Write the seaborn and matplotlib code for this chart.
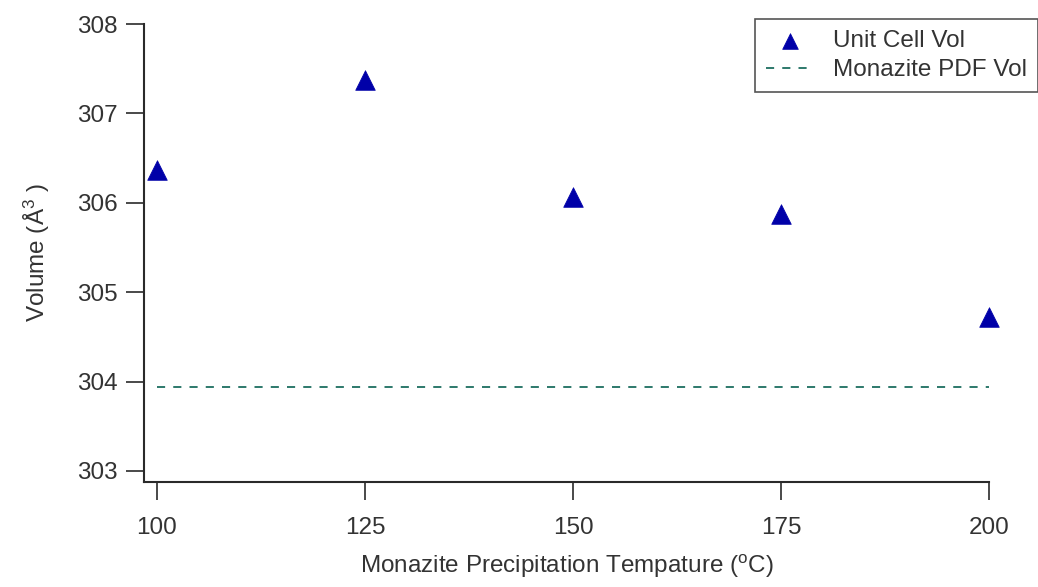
import numpy as np
import pandas as pd
import matplotlib
matplotlib.use('Agg')
import matplotlib.pyplot as plt
import seaborn as sns

# data
temps = [100, 125, 150, 175, 200]
unit_cell_vol = [306.37, 307.37, 306.07, 305.87, 304.72]
pdf_vol = 303.94

sns.set_theme(style='ticks')
plt.rcParams['font.family'] = ['Liberation Sans', 'DejaVu Sans']
plt.rcParams['mathtext.fontset'] = 'custom'
plt.rcParams['mathtext.rm'] = 'Liberation Sans'
plt.rcParams['mathtext.it'] = 'Liberation Sans'

df = pd.DataFrame({'temp': temps, 'vol': unit_cell_vol})
df_pdf = pd.DataFrame({'temp': [min(temps), max(temps)], 'vol': [pdf_vol, pdf_vol]})

fig = plt.figure(figsize=(10.38, 5.87), dpi=100)
ax = fig.add_axes([0.1387, 0.1789, 0.8141, 0.7802])

sns.scatterplot(data=df, x='temp', y='vol', marker='^', s=200, color='#0000a8',
                edgecolor='#0000a8', linewidth=0.5, label='Unit Cell Vol', ax=ax,
                zorder=3, clip_on=False)
sns.lineplot(data=df_pdf, x='temp', y='vol', color='#1d6e60', linestyle=(0, (4.5, 4.5)),
             linewidth=1.3, label='Monazite PDF Vol', ax=ax)

ax.set_xlim(98.45, 200)
ax.set_ylim(302.877, 308)
ax.set_xticks(temps)
ax.set_yticks([303, 304, 305, 306, 307, 308])

for side in ['top', 'right']:
    ax.spines[side].set_visible(False)
for side in ['left', 'bottom']:
    ax.spines[side].set_linewidth(1.5)
    ax.spines[side].set_color('#2a2a2a')

ax.tick_params(axis='both', direction='out', length=13, width=1.2, color='#2a2a2a',
               labelsize=17.5, labelcolor='#333333')
ax.tick_params(axis='x', pad=12)
ax.tick_params(axis='y', pad=6)

ax.set_xlabel('Monazite Precipitation Tempature ($^{\\rm o}$C)', fontsize=17.5,
              color='#333333', labelpad=10)
ax.set_ylabel('Volume (Å$^{3}$ )', fontsize=17.5, color='#333333', labelpad=18)

leg = ax.legend(loc='upper left', bbox_to_anchor=(0.723, 1.011), frameon=True, fontsize=17.5,
                handlelength=2.0, handletextpad=0.75, borderpad=0.45, labelspacing=0.3,
                fancybox=False, borderaxespad=0, markerscale=0.8)
leg.get_frame().set_edgecolor('#2a2a2a')
leg.get_frame().set_linewidth(1.2)
for t in leg.get_texts():
    t.set_color('#333333')

fig.savefig('out.png', dpi=100)
